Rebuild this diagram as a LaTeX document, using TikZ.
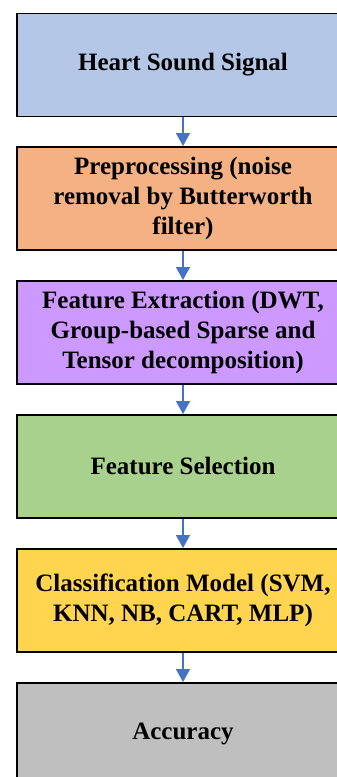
\documentclass[tikz,border=0pt]{standalone}
\usepackage{fontspec}
\setmainfont{Liberation Serif}
\usetikzlibrary{arrows.meta}
\definecolor{cBlue}{HTML}{B4C7E7}
\definecolor{cOrange}{HTML}{F4B183}
\definecolor{cPurple}{HTML}{CC99FF}
\definecolor{cGreen}{HTML}{A9D18E}
\definecolor{cYellow}{HTML}{FFD54F}
\definecolor{cGray}{HTML}{BFBFBF}
\definecolor{cArrow}{HTML}{4472C4}
\tikzset{
  stepbox/.style={draw=black, line width=1.5pt, rectangle, anchor=north,
    minimum width=332pt, minimum height=103pt, inner sep=0pt, align=center,
    font=\fontsize{25pt}{30pt}\selectfont\bfseries},
  flow/.style={draw=cArrow, line width=1.6pt, -{Triangle[width=14pt,length=13pt]}}
}
\begin{document}
\begin{tikzpicture}[x=1pt,y=1pt]
\useasboundingbox (0,0) rectangle (337,-777);
\clip (0,0) rectangle (337,-777);
\node[stepbox, fill=cBlue]   (b1) at (183,-12.5)  {Heart Sound Signal};
\node[stepbox, fill=cOrange] (b2) at (183,-146) {Preprocessing (noise\\removal by Butterworth\\filter)};
\node[stepbox, fill=cPurple] (b3) at (183,-280) {Feature Extraction (DWT,\\Group-based Sparse and\\Tensor decomposition)};
\node[stepbox, fill=cGreen]  (b4) at (183,-414) {Feature Selection};
\node[stepbox, fill=cYellow] (b5) at (183,-548) {Classification Model (SVM,\\KNN, NB, CART, MLP)};
\node[stepbox, fill=cGray]   (b6) at (183,-682) {Accuracy};
\draw[flow] (b1.south) -- (b2.north);
\draw[flow] (b2.south) -- (b3.north);
\draw[flow] (b3.south) -- (b4.north);
\draw[flow] (b4.south) -- (b5.north);
\draw[flow] (b5.south) -- (b6.north);
\end{tikzpicture}
\end{document}
